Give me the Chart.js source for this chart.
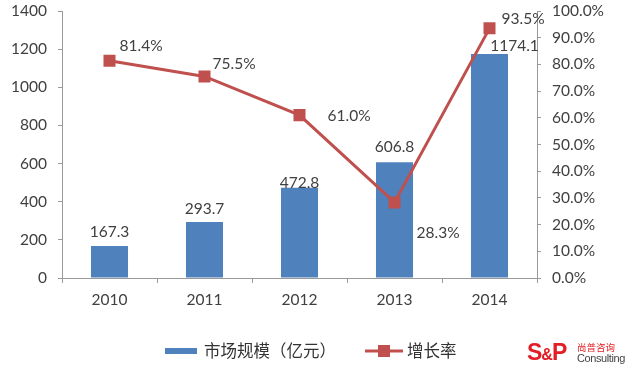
<!DOCTYPE html>
<html>
<head>
<meta charset="utf-8">
<script src="https://cdn.jsdelivr.net/npm/chart.js@4.4.0/dist/chart.umd.min.js"></script>
<style>
  body { margin: 0; background: #fff; }
  #wrap { position: relative; width: 627px; height: 375px; }
  .logo { position: absolute; font-family: "Liberation Sans", Arial, sans-serif; white-space: nowrap; }
</style>
</head>
<body>
<div id="wrap">
  <canvas id="chart" width="627" height="375"></canvas>
  <div class="logo" style="left:527px; top:339px; color:#e31e24; font-weight:bold; font-size:23px; letter-spacing:-1px;">S<span style="font-size:16px;">&amp;</span>P</div>
  <div class="logo" style="left:577px; top:340px; color:#e31e24; font-size:9.5px; font-family:'Noto Sans CJK SC';">尚普咨询</div>
  <div class="logo" style="left:577px; top:352px; color:#444; font-size:11px; letter-spacing:-0.4px;">Consulting</div>
</div>
<script>
  // data
  var years = ["2010", "2011", "2012", "2013", "2014"];
  var marketSize = [167.3, 293.7, 472.8, 606.8, 1174.1];
  var growthRate = [81.4, 75.5, 61.0, 28.3, 93.5];
  var leftTicks = [0, 200, 400, 600, 800, 1000, 1200, 1400];
  var rightTicks = [0, 10, 20, 30, 40, 50, 60, 70, 80, 90, 100];

  // label placement (style only)
  var barLabelShift = [[0, -14], [0, -13], [0, -5], [0, -15], [25, -8]];
  var lineLabelShift = [[10, -15], [8, -12], [28, 1], [22, 31], [12, -9]];

  var BLUE = '#4f81bd', RED = '#c0504d', TXT = '#404040', AX = '#9a9a9a';
  var FONT = 'Lato, "Noto Sans CJK SC", sans-serif';
  var FS = 15.5;

  var labelPlugin = {
    id: 'labels',
    afterDatasetsDraw: function(chart) {
      var ctx = chart.ctx;
      ctx.save();
      ctx.font = FS + 'px ' + FONT;
      ctx.fillStyle = TXT;
      ctx.textBaseline = 'middle';
      chart.getDatasetMeta(0).data.forEach(function(bar, i) {
        ctx.textAlign = 'center';
        ctx.fillText(marketSize[i].toFixed(1), bar.x + barLabelShift[i][0], bar.y + barLabelShift[i][1]);
      });
      chart.getDatasetMeta(1).data.forEach(function(pt, i) {
        ctx.textAlign = 'left';
        ctx.fillText(growthRate[i].toFixed(1) + '%', pt.x + lineLabelShift[i][0], pt.y + lineLabelShift[i][1]);
      });
      ctx.restore();
    }
  };

  var legendPlugin = {
    id: 'customLegend',
    afterDraw: function(chart) {
      var ctx = chart.ctx, y = 351;
      ctx.save();
      ctx.fillStyle = BLUE;
      ctx.fillRect(165, y - 3, 32, 6);
      ctx.strokeStyle = RED; ctx.lineWidth = 3;
      ctx.beginPath(); ctx.moveTo(365, y); ctx.lineTo(403, y); ctx.stroke();
      ctx.fillStyle = RED;
      ctx.fillRect(378, y - 6, 12, 12);
      ctx.font = '16.5px "Noto Sans CJK SC", sans-serif';
      ctx.fillStyle = '#333';
      ctx.textBaseline = 'middle';
      ctx.textAlign = 'left';
      ctx.fillText('市场规模（亿元）', 204, y);
      ctx.fillText('增长率', 407, y);
      ctx.restore();
    }
  };

  new Chart(document.getElementById('chart'), {
    type: 'bar',
    data: {
      labels: years,
      datasets: [
        {
          label: '市场规模（亿元）',
          data: marketSize,
          backgroundColor: BLUE,
          barPercentage: 0.39,
          categoryPercentage: 1,
          yAxisID: 'y',
          order: 2
        },
        {
          type: 'line',
          label: '增长率',
          data: growthRate,
          borderColor: RED,
          borderWidth: 3,
          backgroundColor: RED,
          pointStyle: 'rect',
          pointRadius: 8.5,
          pointBorderWidth: 0,
          yAxisID: 'y1',
          order: 1
        }
      ]
    },
    options: {
      responsive: false,
      animation: false,
      layout: { padding: { top: 11, bottom: 62, left: 0, right: 0 } },
      plugins: { legend: { display: false }, tooltip: { enabled: false } },
      scales: {
        x: {
          grid: { offset: true, drawOnChartArea: false, color: AX, tickLength: 5 },
          border: { color: AX },
          ticks: { color: TXT, font: { size: FS, family: FONT }, padding: 8 },
          afterFit: function(s) { s.height = 35; }
        },
        y: {
          position: 'left',
          min: 0, max: 1400,
          afterBuildTicks: function(s) { s.ticks = leftTicks.map(function(v) { return { value: v }; }); },
          grid: { drawOnChartArea: false, color: AX, tickLength: 4 },
          border: { color: AX },
          ticks: {
            color: TXT, font: { size: FS, family: FONT }, padding: 11,
            callback: function(v) { return String(v); }
          },
          afterFit: function(s) { s.width = 62; s.paddingTop = 0; }
        },
        y1: {
          position: 'right',
          min: 0, max: 100,
          afterBuildTicks: function(s) { s.ticks = rightTicks.map(function(v) { return { value: v }; }); },
          grid: { drawOnChartArea: false, color: AX, tickLength: 4 },
          border: { color: AX },
          ticks: {
            color: TXT, font: { size: FS, family: FONT }, padding: 11,
            callback: function(v) { return v.toFixed(1) + '%'; }
          },
          afterFit: function(s) { s.width = 90; s.paddingTop = 0; }
        }
      }
    },
    plugins: [labelPlugin, legendPlugin]
  });
</script>
</body>
</html>
